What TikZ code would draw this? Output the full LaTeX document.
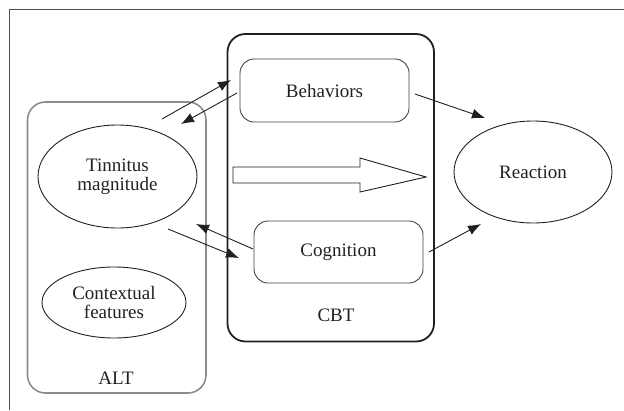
\documentclass[tikz,border=0pt]{standalone}
\usepackage{fontspec}
\setmainfont{Liberation Serif}
\usetikzlibrary{arrows.meta,shapes.geometric}
\definecolor{ink}{HTML}{231F20}
\definecolor{altgray}{HTML}{8C8C8C}
\begin{document}
\begin{tikzpicture}[x=1pt,y=-1pt,
  font=\fontsize{19}{21}\selectfont, text=ink,
  every node/.style={inner sep=0pt, outer sep=0pt},
  ell/.style={draw=ink, line width=0.9pt, ellipse, align=center},
  inbox/.style={draw=ink!85, line width=0.9pt, rounded corners=14pt, rectangle, minimum width=169pt, minimum height=63pt},
  conn/.style={draw=ink, line width=0.9pt, -{Latex[length=13pt,width=10pt]}},
  lbl/.style={align=center}
]
\useasboundingbox (0,0) rectangle (624,410);
% outer frame (cropped)
\draw[draw=ink!80, line width=1pt] (9,410) -- (9,9) -- (624,9);
% ALT box
\node[draw=altgray, line width=1.6pt, rounded corners=18pt, minimum width=178.5pt, minimum height=291pt] (altbox) at (116.75,247.5) {};
\node[lbl] (alt) at (116,378) {ALT};
% CBT box
\node[draw=ink, line width=1.8pt, rounded corners=18pt, minimum width=206.5pt, minimum height=307.5pt] (cbtbox) at (330.75,187.75) {};
\node[lbl] (cbt) at (336,315) {CBT};
% inner boxes
\node[inbox] (beh) at (324.5,90.5) {Behaviors};
\node[inbox, minimum height=62pt] (cog) at (338.5,252) {Cognition};
% ellipses
\node[ell, minimum width=159pt, minimum height=103pt] (tin) at (117.5,176.5) {Tinnitus\\[-2pt]magnitude};
\node[ell, minimum width=144pt, minimum height=71pt] (ctx) at (114,302.5) {Contextual\\[-2pt]features};
\node[ell, minimum width=158pt, minimum height=102pt] (rea) at (533,172) {Reaction};
% big arrow
\draw[ink, line width=0.9pt, fill=white] (233,167) -- (360,167) -- (360,158) -- (426,177) -- (360,192) -- (360,183) -- (233,183) -- cycle;
% connector endpoints
\coordinate (t1) at (162,119); \coordinate (b1) at (231,80);
\coordinate (b2) at (237,93);  \coordinate (t2) at (181,124);
\coordinate (t3) at (168,229); \coordinate (c1) at (239,258);
\coordinate (c2) at (253,249); \coordinate (t4) at (196,224);
\coordinate (b3) at (415,94);  \coordinate (r1) at (485,118);
\coordinate (c3) at (429,252); \coordinate (r2) at (481,224);
\draw[conn] (t1) -- (b1);
\draw[conn] (b2) -- (t2);
\draw[conn] (t3) -- (c1);
\draw[conn] (c2) -- (t4);
\draw[conn] (b3) -- (r1);
\draw[conn] (c3) -- (r2);
\end{tikzpicture}
\end{document}
